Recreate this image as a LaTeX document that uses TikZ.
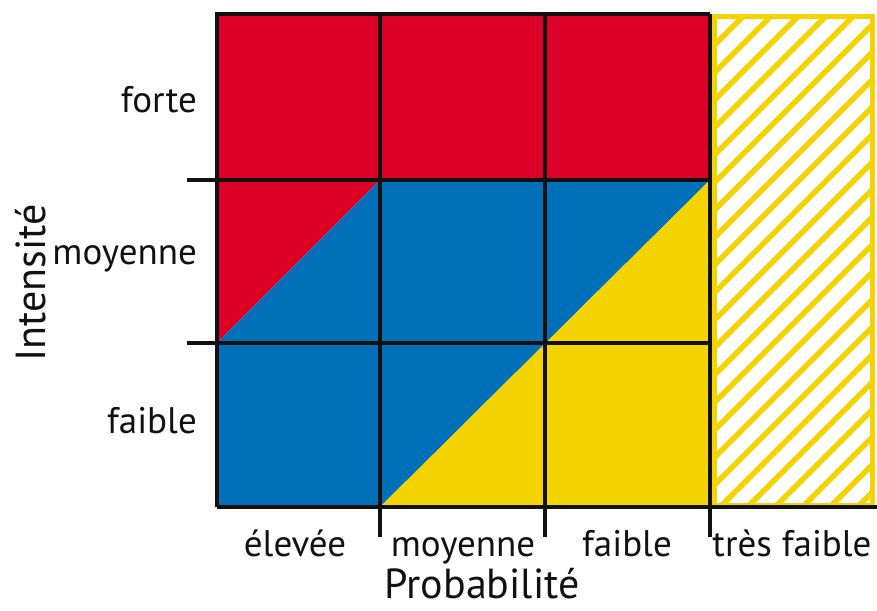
\documentclass[tikz,border=0pt]{standalone}
\usepackage{fontspec}
\setmainfont{PT Sans}
\definecolor{rred}{HTML}{DC0028}
\definecolor{bblue}{HTML}{0070B9}
\definecolor{yyel}{HTML}{F3D300}
\definecolor{inkk}{HTML}{111111}
\begin{document}
\begin{tikzpicture}[x=1pt,y=-1pt,
  gridline/.style={line width=3.2pt, draw=inkk, line join=miter},
  lab/.style={font=\fontsize{37}{40}\selectfont, inner sep=0pt, text=inkk},
  axtitle/.style={font=\fontsize{42}{45}\selectfont, inner sep=0pt, text=inkk},
  hatch/.style={draw=yyel, line width=5.5pt}]
\useasboundingbox (0,0) rectangle (877,610);
% coordinates
\coordinate (tl) at (217,14);
\coordinate (a) at (380,180);
\coordinate (b) at (710,180);
\coordinate (c) at (217,343);
\coordinate (d) at (380,507);
\coordinate (e) at (710,507);
\coordinate (bl) at (217,507);
% fills
\fill[rred] (tl) rectangle (b);
\fill[rred] (217,180) -- (a) -- (c) -- cycle;
\fill[bblue] (c) -- (a) -- (b) -- (d) -- (bl) -- cycle;
\fill[yyel] (b) -- (e) -- (d) -- cycle;
% hatched box
\begin{scope}
\clip (714.5,16.5) rectangle (872.5,505);
\foreach \k in {-26,...,6} {
  \pgfmathsetmacro{\cc}{1227+27.5*\k}
  \draw[hatch] ({\cc-640},640) -- (\cc,0);
}
\end{scope}
\draw[yyel, line width=4.5pt] (714.5,16.5) rectangle (872.5,505);
% grid lines
\draw[gridline] (217,507) -- (217,14) -- (710,14);
\draw[gridline] (217,507) -- (877,507);
\draw[gridline] (187,180) -- (710,180);
\draw[gridline] (187,343) -- (710,343);
\foreach \xx in {380,545,710} \draw[gridline] (\xx,14) -- (\xx,537);
% labels
\node[lab, anchor=base east] (lforte) at (197,112) {forte};
\node[lab, anchor=base east] (lmoy) at (197,264) {moyenne};
\node[lab, anchor=base east] (lfaib) at (197,433) {faible};
\node[lab, anchor=base] (belev) at (295,556) {élevée};
\node[lab, anchor=base] (bmoy) at (463,556) {moyenne};
\node[lab, anchor=base] (bfaib) at (627,556) {faible};
\node[lab, anchor=base] (btf) at (792,556) {très faible};
\node[axtitle, anchor=base] (tprob) at (482,598) {Probabilité};
\node[axtitle, anchor=base, rotate=90] (tint) at (45,283) {Intensité};
\end{tikzpicture}
\end{document}
